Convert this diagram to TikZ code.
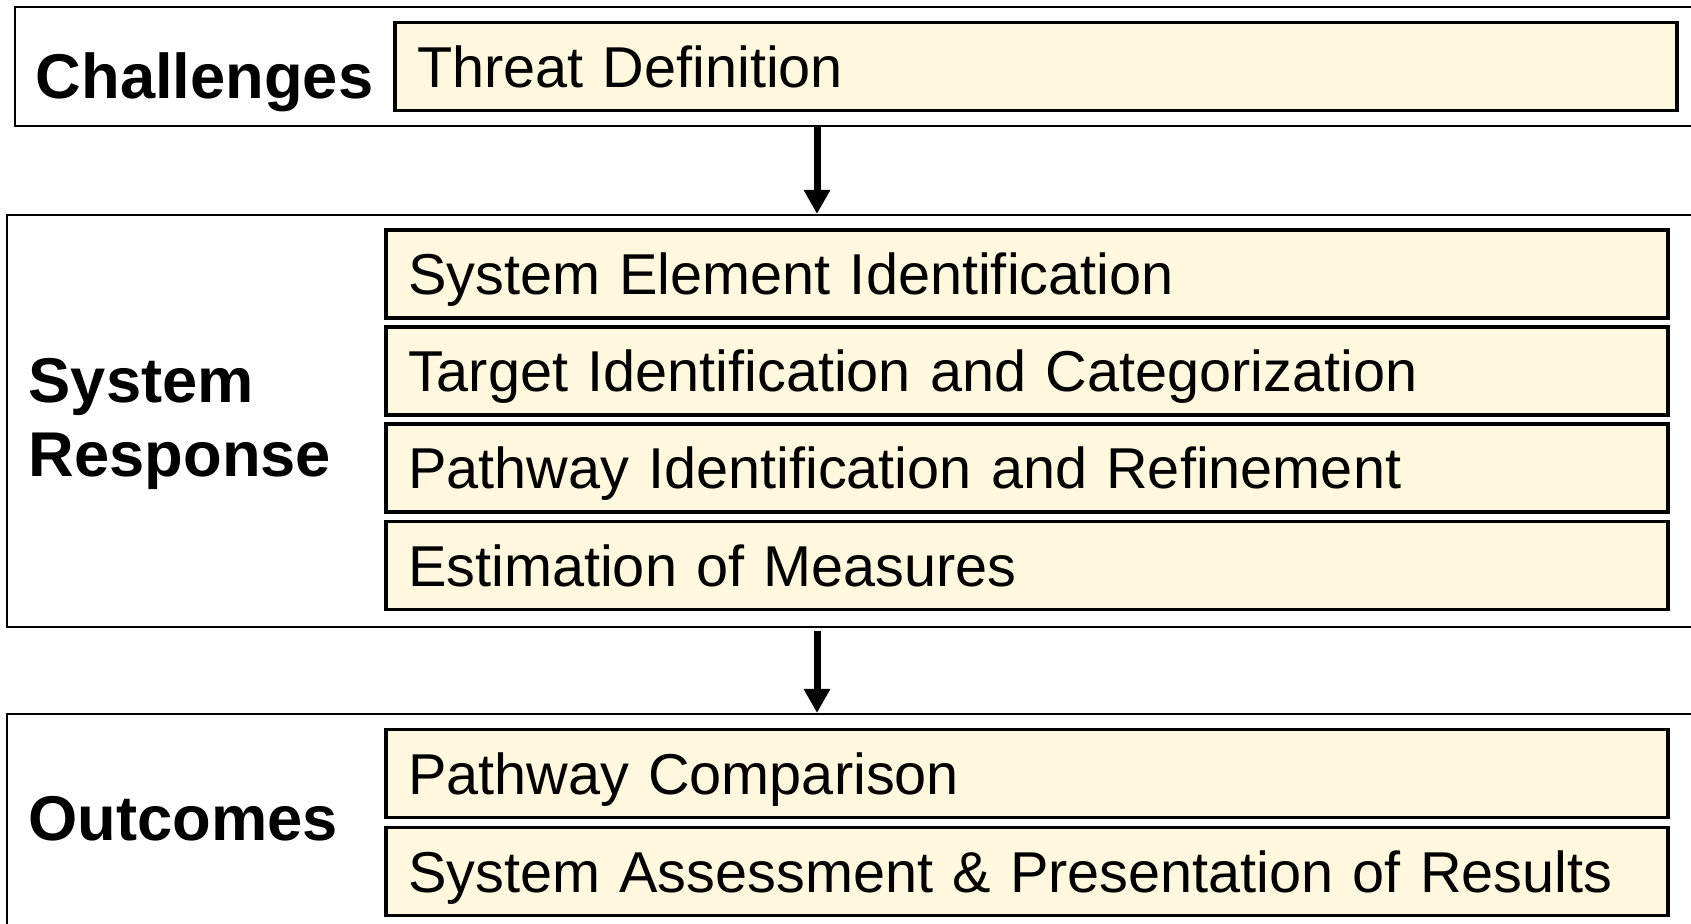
\documentclass[tikz,border=0pt]{standalone}
\usepackage{fontspec}
\setmainfont{Liberation Sans}
\usetikzlibrary{arrows.meta}
\definecolor{stepfill}{RGB}{255,247,222}

\begin{document}
\begin{tikzpicture}[x=0.1mm,y=-0.1mm,
  group/.style={draw, line width=0.6pt, inner sep=0pt},
  stepbox/.style={draw, line width=0.9pt, fill=stepfill, minimum width=128.2mm, minimum height=8.8mm,
    inner xsep=2.2mm, text width=123.8mm, align=left, font=\fontsize{16.4}{19}\selectfont,
    text height=11.8pt, text depth=0pt},
  title/.style={inner sep=0pt, align=left, font=\fontsize{18}{21.3}\selectfont\bfseries},
  flow/.style={line width=0.7mm, -{Triangle[width=2.5mm,length=2.4mm]}}]
\clip (0,0) rectangle (1691,924);
\fill[white] (0,0) rectangle (1691,924);

% outer frames
\node[group, minimum width=170.5mm, minimum height=11.9mm] (chal) at (867.5,66.5) {};
\node[group, minimum width=171.3mm, minimum height=41.2mm] (resp) at (863.5,421) {};
\node[group, minimum width=171.3mm, minimum height=25mm] (outc) at (863.5,839) {};

% titles
\node[title, anchor=base west] (chaltitle) at (35,99) {Challenges};
\node[title, anchor=base west] (resptitle) at (28,477) {System\\Response};
\node[title, anchor=base west] (outctitle) at (28,840) {Outcomes};

% steps
\node[stepbox] (threat) at (1036,66.5) {Threat Definition};
\node[stepbox] (elem) at (1027,274) {System Element Identification};
\node[stepbox] (target) at (1027,371) {Target Identification and Categorization};
\node[stepbox] (path) at (1027,468) {Pathway Identification and Refinement};
\node[stepbox] (meas) at (1027,565.5) {Estimation of Measures};
\node[stepbox] (comp) at (1027,773.5) {Pathway Comparison};
\node[stepbox] (assess) at (1027,871.5) {System Assessment \& Presentation of Results};

% arrows
\coordinate (ax) at (817,0);
\draw[flow] (chal.south -| ax) -- (resp.north -| ax);
\draw[flow] (resp.south -| ax) ++(0,3) -- (outc.north -| ax);
\end{tikzpicture}
\end{document}
